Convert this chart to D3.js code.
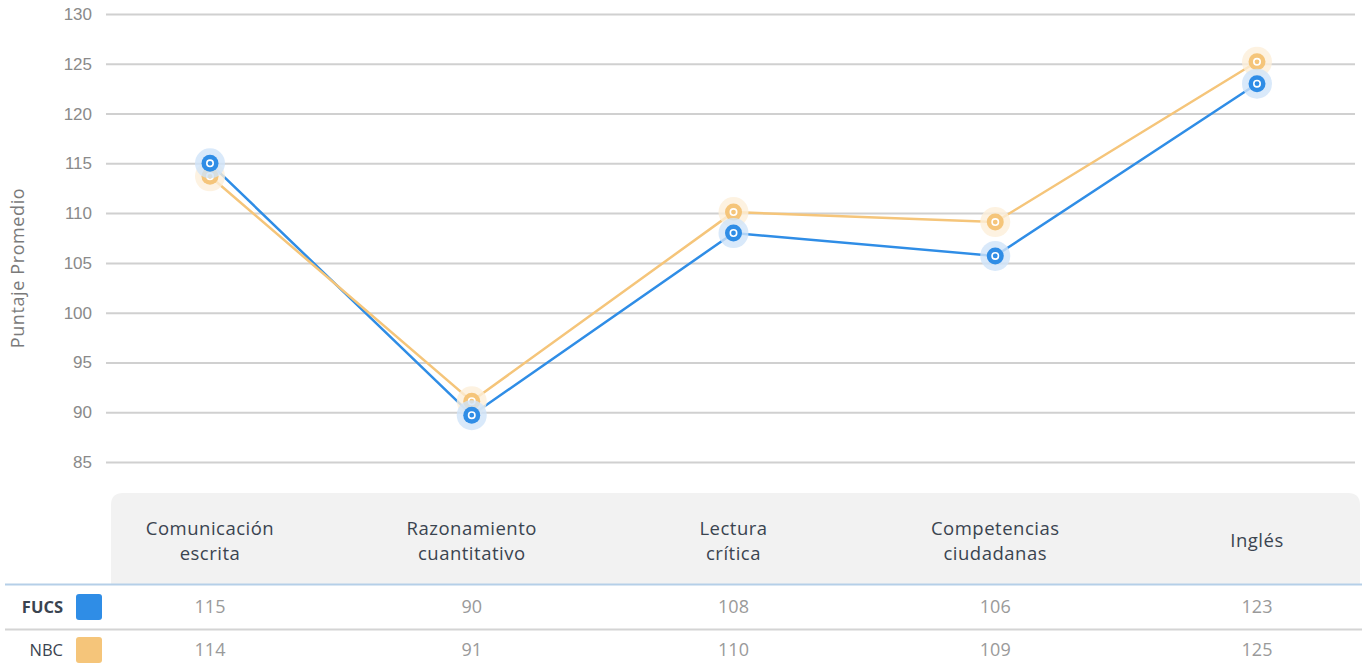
<!DOCTYPE html>
<html><head><meta charset="utf-8">
<script src="https://cdn.jsdelivr.net/npm/d3@7"></script>
<style>body{margin:0;background:#fff;}svg{display:block;font-family:"Open Sans",Lato,sans-serif;}</style>
</head><body>
<svg id="c" width="1362" height="672"></svg>
<script>
const categories = [["Comunicación","escrita"],["Razonamiento","cuantitativo"],["Lectura","crítica"],["Competencias","ciudadanas"],["Inglés"]];
const seriesNames = ["FUCS","NBC"];
const fucsValues = [115.0, 89.7, 108.0, 105.7, 123.0];
const nbcValues = [113.7, 91.1, 110.1, 109.1, 125.2];
const yTicks = [85,90,95,100,105,110,115,120,125,130];
const colors = ["#2f8de6","#f5c57a"];
const halos = ["#cfe3f9","#fcefd9"];

const svg = d3.select("#c");
const x = d3.scalePoint().domain(d3.range(categories.length)).range([210,1257]);
const y = d3.scaleLinear().domain([85,130]).range([462,14]);

const ax = svg.append("g").attr("transform","translate(106,0)")
  .call(d3.axisLeft(y).tickValues(yTicks).tickSize(-1249).tickPadding(16));
ax.select(".domain").remove();
ax.selectAll(".tick line").attr("stroke","#d0d0d0").attr("stroke-width",2);
ax.selectAll(".tick text").attr("fill","#8a8a8a").attr("font-size",17).attr("x",-14);

svg.append("text").attr("transform","translate(24,268) rotate(-90)")
  .attr("text-anchor","middle").attr("fill","#7a7a7a").attr("font-size",18).attr("letter-spacing",0.6).text("Puntaje Promedio");

const series = [fucsValues, nbcValues];
const line = d3.line().x((d,i)=>x(i)).y(d=>y(d));
series.forEach((vals,s)=>{
  svg.append("path").datum(vals).attr("d",line).attr("fill","none")
    .attr("stroke",colors[s]).attr("stroke-width",2.5);
});
[1,0].forEach(s=>{
  const g = svg.append("g");
  const pts = g.selectAll("g").data(series[s]).join("g")
    .attr("transform",(d,i)=>`translate(${x(i)},${y(d)})`);
  pts.append("circle").attr("r",15).attr("fill",halos[s]).attr("opacity",0.8);
  pts.append("circle").attr("r",8.5).attr("fill",colors[s]);
  pts.append("circle").attr("r",3.2).attr("fill","none").attr("stroke","#fff").attr("stroke-width",1.6);
});

const hx0 = 111, hx1 = 1360, hy0 = 493, hy1 = 584, r = 12;
svg.append("path").attr("fill","#f2f2f2")
  .attr("d",`M${hx0},${hy1} L${hx0},${hy0+r} Q${hx0},${hy0} ${hx0+r},${hy0} L${hx1-r},${hy0} Q${hx1},${hy0} ${hx1},${hy0+r} L${hx1},${hy1} Z`);
const hdrLines = [];
categories.forEach((c,i)=>c.forEach((t,k)=>hdrLines.push({i, t, k, n:c.length})));
svg.append("g").selectAll("text").data(hdrLines).join("text")
  .attr("text-anchor","middle").attr("fill","#3a4450").attr("font-size",18.5).attr("letter-spacing",0.5)
  .attr("x",d=>x(d.i)).attr("y",d=>d.n>1?(529+d.k*25):541).attr("dy","0.35em").text(d=>d.t);

svg.append("line").attr("x1",5).attr("x2",1362).attr("y1",584.5).attr("y2",584.5).attr("stroke","#b5cfe8").attr("stroke-width",2);
svg.append("line").attr("x1",5).attr("x2",1362).attr("y1",629.5).attr("y2",629.5).attr("stroke","#d4d4d4").attr("stroke-width",2);

const rowY = [607,650];
const fmt = d3.format(".0f");
series.forEach((vals,s)=>{
  svg.append("text").attr("x",63).attr("y",rowY[s]).attr("dy","0.35em").attr("text-anchor","end")
    .attr("font-size",16.5).attr("font-weight",s===0?"bold":"normal").attr("fill","#3a4450").text(seriesNames[s]);
  svg.append("rect").attr("x",76).attr("y",rowY[s]-13).attr("width",26).attr("height",26).attr("rx",3).attr("fill",colors[s]);
  svg.append("g").selectAll("text").data(vals).join("text")
    .attr("x",(d,i)=>x(i)).attr("y",rowY[s]).attr("dy","0.35em").attr("text-anchor","middle")
    .attr("font-size",18).attr("fill","#9a9a9a").text(d=>fmt(d));
});
</script>
</body></html>
